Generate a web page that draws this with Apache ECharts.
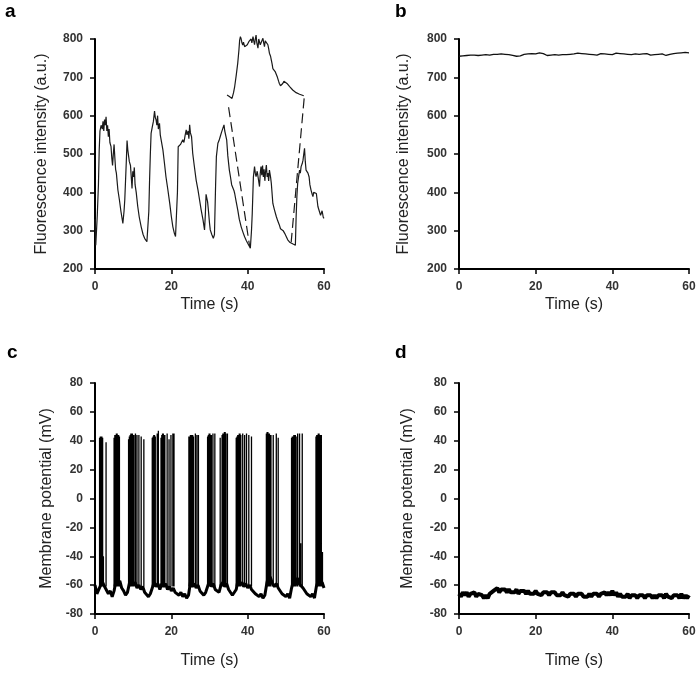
<!DOCTYPE html>
<html>
<head>
<meta charset="utf-8">
<script src="https://cdn.jsdelivr.net/npm/echarts@6/dist/echarts.min.js"></script>
<style>
html,body{margin:0;padding:0;background:#fff;}
#chart{width:700px;height:675px;}
</style>
</head>
<body>
<div id="chart"></div>
<script>
// ---------- DATA ----------
// Panel a: fluorescence trace (time s, a.u.)
const aTime = [0.0,0.2,0.4,0.6,0.9,1.1,1.3,1.6,1.9,2.1,2.3,2.5,2.7,2.9,3.1,3.3,3.5,3.7,3.9,4.2,4.4,4.6,4.8,5.0,5.2,5.4,5.6,6.0,6.4,6.8,7.3,7.6,7.8,8.0,8.2,8.4,8.6,8.8,9.0,9.3,9.5,9.7,9.9,10.1,10.3,10.5,10.8,11.2,11.6,12.1,12.6,13.0,13.6,13.9,14.1,14.3,14.5,14.7,15.0,15.3,15.6,15.8,16.0,16.2,16.4,16.6,16.9,17.1,17.3,17.8,18.2,18.6,19.1,19.6,20.0,20.4,20.8,21.1,21.4,21.6,21.8,22.1,22.4,22.7,23.0,23.3,23.6,23.9,24.1,24.4,24.6,24.8,25.0,25.3,25.6,26.0,26.5,27.0,27.4,27.8,28.3,28.7,28.9,29.1,29.3,29.5,29.7,30.0,30.2,30.6,31.0,31.3,31.6,31.8,32.2,32.5,32.8,33.1,33.3,33.6,33.8,34.0,34.2,34.5,34.8,35.2,35.5,35.8,36.1,36.4,36.6,37.0,37.4,37.8,38.3,38.8,39.2,39.6,40.0,40.4,40.7,41.0,41.2,41.5,41.8,42.0,42.2,42.5,42.8,43.1,43.3,43.5,43.7,43.9,44.1,44.3,44.5,44.7,44.9,45.1,45.3,45.5,45.7,46.0,46.2,46.6,47.0,47.5,47.9,48.3,48.6,49.0,49.3,49.7,50.1,50.5,51.0,51.4,51.9,52.3,52.5,52.7,52.9,53.1,53.4,53.6,53.8,54.0,54.3,54.5,54.7,54.9,55.1,55.3,55.6,55.8,56.1,56.3,56.6,56.9,57.1,57.3,57.5,57.8,58.0,58.2,58.4,58.8,59.1,59.3,59.5,59.7,59.8,60.0];
const aValue = [330,262,265,340,420,510,560,575,565,585,560,590,575,597,560,575,545,565,530,519,490,470,500,525,490,460,450,406,380,350,319,350,380,430,480,535,510,495,480,470,440,410,455,440,465,420,400,363,335,310,290,280,271,275,350,432,500,554,570,585,612,595,589,575,600,565,580,550,545,510,476,440,406,370,337,310,293,285,280,400,519,515,525,520,537,530,548,563,550,560,540,576,555,545,502,470,432,405,380,355,328,302,340,395,385,375,355,320,302,290,280,290,420,493,528,535,545,555,554,570,576,560,563,537,495,458,440,420,415,405,397,375,354,330,310,295,284,275,267,260,254,300,345,440,467,450,441,455,435,415,450,467,445,470,440,460,430,455,471,440,450,430,458,440,423,371,355,337,325,315,305,310,300,293,285,276,270,267,265,263,262,337,390,423,445,458,450,467,475,484,500,515,480,458,455,450,440,420,406,395,389,400,397,405,397,380,363,350,340,337,352,350,335,332];
// Panel a: magnified inset segment
const insetTime = [34.6,35.2,35.9,36.3,36.6,37.0,37.4,37.7,37.9,38.1,38.3,38.5,38.7,38.9,39.2,39.6,39.9,40.3,40.6,40.9,41.1,41.4,41.6,41.8,42.0,42.2,42.4,42.7,42.9,43.1,43.3,43.5,43.7,44.0,44.2,44.4,44.6,44.9,45.1,45.3,45.5,45.7,46.0,46.2,46.4,46.6,46.9,47.2,47.5,47.8,48.1,48.3,48.6,48.8,49.0,49.2,49.5,49.7,50.0,50.3,50.6,51.0,51.4,51.8,52.2,52.7,53.2,53.6,54.1,54.7];
const insetValue = [654,650,645,660,676,705,737,770,797,806,800,790,784,792,780,776,785,793,788,800,790,806,795,785,800,810,790,776,800,805,785,780,795,802,790,780,795,797,790,785,775,763,755,745,735,723,720,715,710,700,690,684,678,676,680,684,690,693,688,684,680,676,671,667,663,660,658,656,654,652];
// Panel a: dashed connector lines (time, value) endpoints
const dashLeftTime = [35.0, 40.5];
const dashLeftValue = [622, 260];
const dashRightTime = [54.8, 51.4];
const dashRightValue = [645, 270];

// Panel b: flat fluorescence, sampled every bStep seconds
const bStep = 0.5;
const bValue = [
755,757,756,759,757,760,758,761,758,760,
757,759,758,760,759,761,758,762,760,763,
760,759,761,758,760,757,759,756,757,754,
755,752,756,754,760,757,761,759,762,758,
761,760,764,759,762,758,757,760,758,760,
759,761,758,760,759,761,759,762,760,763,
761,766,763,765,762,764,761,763,760,762,
759,761,758,760,762,759,761,758,760,762,
759,761,763,760,762,759,761,764,760,762,
759,763,761,764,760,763,761,758,762,760,
758,761,759,762,760,758,761,759,757,756,
760,758,762,765,763,766,764,761,765,763,
764];

// Panel c: membrane potential baseline (every cStep s) and action potentials
const cStep = 0.5;
const cBase = [
-60,-66,-63,-60,-58,-61,-62,-66,-64,-68,
-64,-57,-59,-57,-62,-64,-67,-65,-59,-57,
-60,-58,-62,-60,-63,-61,-65,-64,-68,-66,
-62,-58,-61,-59,-63,-59,-61,-59,-63,-61,
-64,-62,-65,-64,-67,-65,-68,-66,-69,-67,
-58,-61,-59,-62,-60,-64,-63,-67,-65,-61,
-57,-61,-59,-63,-62,-65,-60,-58,-61,-59,
-63,-64,-67,-66,-63,-56,-60,-58,-61,-59,
-62,-60,-63,-63,-66,-65,-68,-66,-69,-67,
-59,-53,-55,-59,-61,-59,-62,-63,-66,-65,
-68,-66,-69,-62,-57,-60,-55,-59,-58,-62,
-63,-66,-65,-68,-66,-69,-61,-57,-60,-58,
-62];
const cSpikeTime = [
1.2,1.4,1.6,1.8,2.0,2.2,2.9,
5.0,5.2,5.4,5.6,5.8,6.0,6.2,6.4,
8.8,9.0,9.2,9.4,9.6,9.8,10.0,10.2,10.6,11.0,11.5,12.1,12.8,
15.0,15.2,15.4,15.6,15.8,16.3,16.6,
17.3,17.5,17.7,17.9,18.1,18.3,18.9,19.4,19.9,20.4,20.7,
24.6,24.8,25.0,25.2,25.4,25.6,25.8,26.3,26.7,27.1,
29.5,29.7,29.9,30.1,30.3,30.5,30.9,31.4,
32.8,33.3,33.5,33.7,33.9,34.1,34.3,34.7,
37.0,37.2,37.4,37.6,37.8,38.0,38.2,38.7,39.2,39.7,40.3,41.0,
44.9,45.1,45.3,45.5,45.7,45.9,46.1,46.7,47.5,48.0,
51.5,51.7,51.9,52.1,52.3,52.5,52.7,53.1,53.6,53.9,54.3,
57.9,58.1,58.3,58.5,58.7,58.9,59.1,59.3,59.6];
const cSpikePeak = [
42,43,43,43,42,-40,39,
42,44,44,45,45,44,44,43,
41,43,44,45,45,45,44,44,45,44,44,43,41,
42,43,44,44,43,45,47,
42,44,45,45,44,44,45,41,44,45,45,
43,43,44,44,44,44,43,45,44,44,
43,44,45,45,44,44,45,45,
42,44,45,45,46,46,45,45,
42,43,44,44,45,45,44,45,44,45,44,43,
45,46,46,45,45,44,44,44,45,42,
42,43,43,44,44,44,43,45,45,-31,45,
43,44,44,45,45,44,44,44,-37];
const cSpikeFoot = -61;

// Panel d: flat membrane potential (every dStep s)
const dStep = 0.5;
const dValue = [
-66,-68,-65,-67,-65,-68,-66,-67,-65,-68,
-66,-67,-67,-69,-67,-69,-66,-67,-64,-65,
-62,-65,-63,-64,-63,-65,-63,-65,-64,-65,
-63,-66,-64,-65,-64,-66,-64,-66,-65,-66,
-64,-66,-65,-67,-65,-66,-65,-67,-65,-66,
-65,-67,-66,-67,-65,-67,-66,-68,-66,-67,
-66,-68,-66,-67,-66,-68,-67,-68,-66,-68,
-66,-67,-66,-68,-66,-67,-65,-67,-65,-67,
-64,-67,-65,-68,-66,-68,-67,-68,-66,-69,
-67,-68,-67,-69,-67,-68,-67,-69,-67,-68,
-67,-69,-67,-69,-67,-68,-67,-69,-66,-68,
-67,-69,-67,-68,-67,-69,-66,-69,-67,-69,
-67];

// Axis ticks
const timeTicks = {min: 0, max: 60, interval: 20};
const fluoTicks = {min: 200, max: 800, interval: 100};
const mvTicks = {min: -80, max: 80, interval: 20};
const panelLabels = ['a', 'b', 'c', 'd'];

// ---------- BUILD ----------
const FONT = "'Liberation Sans', Arial, Helvetica, sans-serif";
const zip = (xs, ys) => xs.map((x, i) => [x, ys[i]]);
const sampled = (step, ys) => ys.map((y, i) => [+(i * step).toFixed(2), y]);

const spikeData = [];
cSpikeTime.forEach((t, i) => {
  spikeData.push([t, cSpikeFoot], [t, cSpikePeak[i]], [t, '-']);
});

function xAxis(gi, nameGap) {
  return {
    type: 'value', gridIndex: gi, min: timeTicks.min, max: timeTicks.max, interval: timeTicks.interval,
    name: 'Time (s)', nameLocation: 'middle', nameGap: nameGap,
    nameTextStyle: {fontSize: 16, color: '#222', fontFamily: FONT},
    axisLine: {show: true, onZero: false, lineStyle: {color: '#000', width: 2}},
    axisTick: {show: true, length: 5, lineStyle: {color: '#000', width: 1.5}},
    axisLabel: {fontSize: 12, fontWeight: 'bold', color: '#333', margin: 12, fontFamily: FONT},
    splitLine: {show: false}
  };
}
function yAxis(gi, ticks, name, nameGap) {
  return {
    type: 'value', gridIndex: gi, min: ticks.min, max: ticks.max, interval: ticks.interval,
    name: name, nameLocation: 'middle', nameGap: nameGap,
    nameTextStyle: {fontSize: 16, color: '#222', fontFamily: FONT},
    axisLine: {show: true, onZero: false, lineStyle: {color: '#000', width: 2}},
    axisTick: {show: true, length: 5, lineStyle: {color: '#000', width: 1.5}},
    axisLabel: {fontSize: 12, fontWeight: 'bold', color: '#333', margin: 12, fontFamily: FONT},
    splitLine: {show: false}
  };
}
function lineSeries(gi, data, style) {
  return Object.assign({
    type: 'line', xAxisIndex: gi, yAxisIndex: gi, data: data,
    showSymbol: false, symbol: 'none', clip: false, silent: true, animation: false,
    connectNulls: false
  }, style);
}

const option = {
  animation: false,
  backgroundColor: '#fff',
  textStyle: {fontFamily: FONT},
  title: [
    {text: panelLabels[0], left: 5, top: 2},
    {text: panelLabels[1], left: 395, top: 2},
    {text: panelLabels[2], left: 7, top: 343},
    {text: panelLabels[3], left: 395, top: 343}
  ].map(t => Object.assign(t, {padding: 0, textStyle: {fontSize: 19, fontWeight: 'bold', color: '#000', fontFamily: FONT}})),
  grid: [
    {left: 95, top: 39, width: 229, height: 230},
    {left: 459, top: 39, width: 230, height: 230},
    {left: 95, top: 383, width: 229, height: 231},
    {left: 459, top: 383, width: 230, height: 231}
  ],
  xAxis: [xAxis(0, 28), xAxis(1, 28), xAxis(2, 39), xAxis(3, 39)],
  yAxis: [
    yAxis(0, fluoTicks, 'Fluorescence intensity (a.u.)', 45),
    yAxis(1, fluoTicks, 'Fluorescence intensity (a.u.)', 47),
    yAxis(2, mvTicks, 'Membrane potential (mV)', 40),
    yAxis(3, mvTicks, 'Membrane potential (mV)', 43)
  ],
  series: [
    lineSeries(0, zip(aTime, aValue), {lineStyle: {color: '#1a1a1a', width: 1.2}}),
    lineSeries(0, zip(insetTime, insetValue), {lineStyle: {color: '#1a1a1a', width: 1.2}}),
    lineSeries(0, zip(dashLeftTime, dashLeftValue), {lineStyle: {color: '#1a1a1a', width: 1.2, type: [10, 5]}}),
    lineSeries(0, zip(dashRightTime, dashRightValue), {lineStyle: {color: '#1a1a1a', width: 1.2, type: [10, 5]}}),
    lineSeries(1, sampled(bStep, bValue), {lineStyle: {color: '#111', width: 1.3}}),
    lineSeries(2, sampled(cStep, cBase), {lineStyle: {color: '#000', width: 3}}),
    lineSeries(2, spikeData, {lineStyle: {color: '#000', width: 1.3}}),
    lineSeries(3, sampled(dStep, dValue), {lineStyle: {color: '#000', width: 4}})
  ]
};

const chart = echarts.init(document.getElementById('chart'), null, {renderer: 'canvas'});
chart.setOption(option);
</script>
</body>
</html>
